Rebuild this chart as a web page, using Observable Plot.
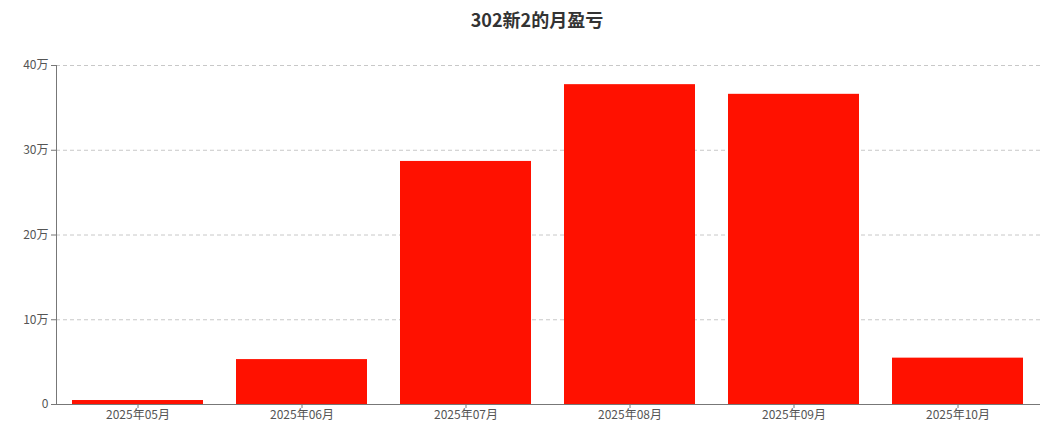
<!DOCTYPE html>
<html>
<head>
<meta charset="utf-8">
<script src="https://cdn.jsdelivr.net/npm/d3@7"></script>
<script src="https://cdn.jsdelivr.net/npm/@observablehq/plot@0.6"></script>
<style>
  body { margin: 0; background: #fff; font-family: "Noto Sans CJK SC", "Noto Sans", sans-serif; }
  #title {
    width: 1055px; height: 40px; line-height: 39px; text-align: center;
    box-sizing: border-box; padding-left: 19px;
    font-size: 18px; font-weight: bold; color: #333;
  }
  #chart svg { display: block; }
</style>
</head>
<body>
<div id="title">302新2的月盈亏</div>
<div id="chart"></div>
<script>
// Monthly profit / loss, in yuan
const months = ["2025年05月", "2025年06月", "2025年07月", "2025年08月", "2025年09月", "2025年10月"];
const profits = [4700, 53000, 286800, 377400, 366000, 54700];
const yTicks = [0, 100000, 200000, 300000, 400000];

const data = months.map((month, i) => ({ month, profit: profits[i] }));
const wan = d => d === 0 ? "0" : `${d / 10000}万`;

const chart = Plot.plot({
  width: 1055,
  height: 399,
  marginLeft: 56,
  marginRight: 15,
  marginTop: 25,
  marginBottom: 35,
  style: { fontFamily: '"Noto Sans CJK SC", "Noto Sans", sans-serif', color: "#555", background: "#fff" },
  x: { domain: months, paddingInner: 0.2, paddingOuter: 0.1, label: null },
  y: { domain: [0, 400000], label: null },
  marks: [
    Plot.gridY(yTicks, { stroke: "#c8c8c8", strokeOpacity: 1, strokeDasharray: "4,3" }),
    Plot.barY(data, { x: "month", y: "profit", fill: "#ff1100" }),
    Plot.frame({ anchor: "left", stroke: "#777" }),
    Plot.ruleY([0], { stroke: "#777" }),
    Plot.axisY({ ticks: yTicks, tickFormat: wan, tickSize: 5, tickPadding: 3, fontSize: 12, label: null, stroke: "#777" }),
    Plot.axisX({ tickSize: 4, tickPadding: 2, fontSize: 12, label: null, stroke: "#777" })
  ]
});
document.getElementById("chart").append(chart);
</script>
</body>
</html>
